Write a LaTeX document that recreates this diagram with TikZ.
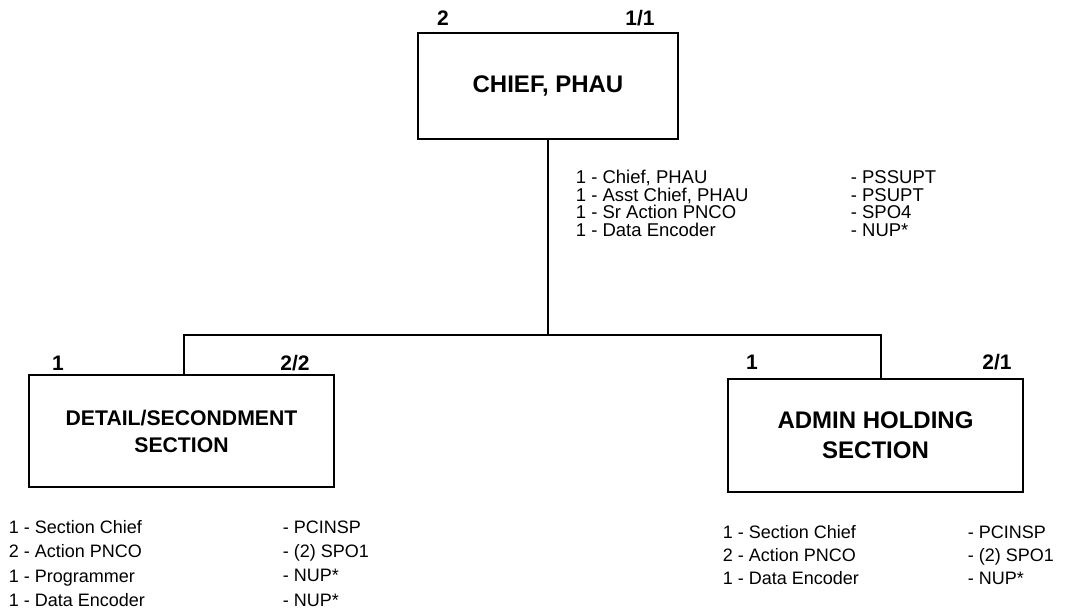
\documentclass[tikz,border=0pt]{standalone}
\usepackage{fontspec}
\setmainfont{Liberation Sans}
\begin{document}
\begin{tikzpicture}[x=1pt, y=-1pt, line width=1.7pt,
  unit/.style={draw, inner sep=0pt, align=center},
  count/.style={font=\bfseries\fontsize{21}{21}\selectfont, inner sep=0pt},
  roster/.style={anchor=west, inner sep=0pt, align=left}]
\useasboundingbox (0,0) rectangle (1074,613);
% units
\node [unit, minimum width=260pt, minimum height=106pt, font=\bfseries\fontsize{24}{30}\selectfont] (chief) at (548,86) {CHIEF, PHAU};
\node [unit, minimum width=305pt, minimum height=112pt, font=\bfseries\fontsize{21.2}{27}\selectfont] (detail) at (181.5,431) {DETAIL/SECONDMENT\\SECTION};
\node [unit, minimum width=295pt, minimum height=113pt, font=\bfseries\fontsize{24}{30}\selectfont] (admin) at (875.5,435.5) {ADMIN HOLDING\\SECTION};
% connectors
\coordinate (bus) at (0,335);
\coordinate (detailtop) at ([xshift=2.5pt]detail.north);
\coordinate (admintop) at ([xshift=5.5pt]admin.north);
\draw (chief.south) -- (chief.south |- bus);
\draw (detailtop) |- (bus -| admintop) -- (admintop);
% strength
\node [count] (chiefoff) at (443,18) {2};
\node [count] (chiefenl) at (640,18) {1/1};
\node [count] (detailoff) at (58,363) {1};
\node [count] (detailenl) at (295,363) {2/2};
\node [count] (adminoff) at (752,362) {1};
\node [count] (adminenl) at (997,362) {2/1};
% rosters
\node [roster, font=\fontsize{18.5}{17.7}\selectfont] (chieflist) at (575,203.5)
  {1 - Chief, PHAU\\1 - Asst Chief, PHAU\\1 - Sr Action PNCO\\1 - Data Encoder};
\node [roster, font=\fontsize{18.5}{17.7}\selectfont] (chiefrank) at (850,203.5)
  {- PSSUPT\\- PSUPT\\- SPO4\\- NUP*};
\node [roster, font=\fontsize{18}{24.3}\selectfont] (detaillist) at (8,563.5)
  {1 - Section Chief\\2 - Action PNCO\\1 - Programmer\\1 - Data Encoder};
\node [roster, font=\fontsize{18}{24.3}\selectfont] (detailrank) at (282,563.5)
  {- PCINSP\\- (2) SPO1\\- NUP*\\- NUP*};
\node [roster, font=\fontsize{18}{23}\selectfont] (adminlist) at (722,555)
  {1 - Section Chief\\2 - Action PNCO\\1 - Data Encoder};
\node [roster, font=\fontsize{18}{23}\selectfont] (adminrank) at (967,555)
  {- PCINSP\\- (2) SPO1\\- NUP*};
\end{tikzpicture}
\end{document}
